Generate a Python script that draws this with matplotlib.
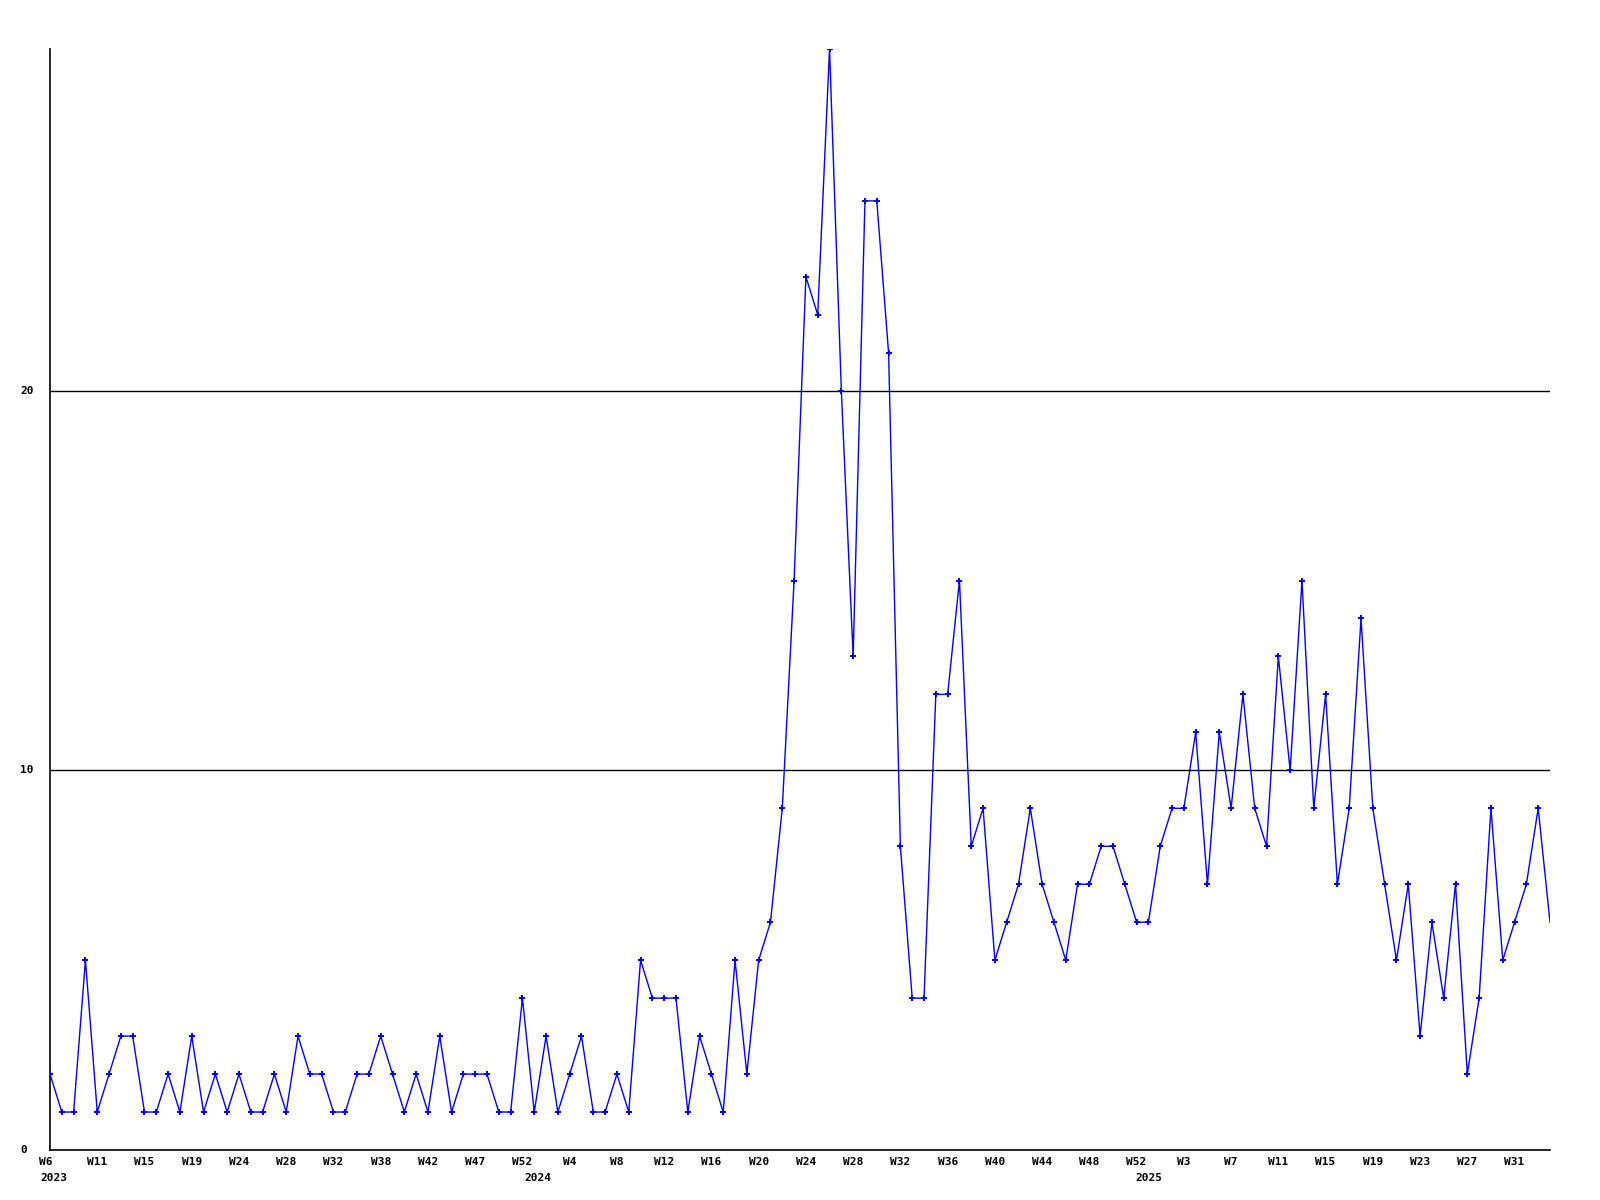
import matplotlib
matplotlib.use("Agg")
import matplotlib.pyplot as plt

# Weekly values, 2023 W6 onwards (128 points)
values_2023 = [2, 1, 1, 5, 1, 2, 3, 3, 1, 1, 2, 1, 3, 1, 2, 1, 2, 1, 1, 2,
               1, 3, 2, 2, 1, 1, 2, 2, 3, 2, 1, 2, 1, 3, 1, 2, 2, 2, 1, 1, 4]
values_2024 = [1, 3, 1, 2, 3, 1, 1, 2, 1, 5, 4, 4, 4, 1, 3, 2, 1, 5, 2, 5,
               6, 9, 15, 23, 22, 29, 20, 13, 25, 25, 21, 8, 4, 4, 12, 12, 15, 8, 9, 5,
               6, 7, 9, 7, 6, 5, 7, 7, 8, 8, 7, 6]
values_2025 = [6, 8, 9, 9, 11, 7, 11, 9, 12, 9, 8, 13, 10, 15, 9, 12, 7, 9, 14, 9,
               7, 5, 7, 3, 6, 4, 7, 2, 4, 9, 5, 6, 7, 9, 6]
values = values_2023 + values_2024 + values_2025

# Tick labels every 4 points
week_labels = ["W6", "W11", "W15", "W19", "W24", "W28", "W32", "W38", "W42", "W47", "W52",
               "W4", "W8", "W12", "W16", "W20", "W24", "W28", "W32", "W36", "W40", "W44",
               "W48", "W52", "W3", "W7", "W11", "W15", "W19", "W23", "W27", "W31"]
year_labels = ["2023", "2024", "2025"]
year_positions = [0.3, 41.3, 93]
y_ticks = [0, 10, 20]

font = dict(family="DejaVu Sans Mono", fontweight="bold", fontsize=8)

fig = plt.figure(figsize=(16, 12), dpi=100)
ax = fig.add_axes([50/1600, 1 - 1150/1200, 1500/1600, (1150-49)/1200])

x = list(range(len(values)))
ax.plot(x, values, color="#0000ff", lw=1.0, marker="P", markersize=4.2,
        markeredgewidth=0, markevery=list(range(len(values) - 1)), zorder=3)

ax.set_xlim(0, len(values) - 1)
ax.set_ylim(0, 29)

for yv in y_ticks[1:]:
    ax.axhline(yv, color="black", lw=1.0, zorder=1)

for s in ["top", "right"]:
    ax.spines[s].set_visible(False)
for s in ["left", "bottom"]:
    ax.spines[s].set_color("black")
    ax.spines[s].set_linewidth(1.2)

ax.set_xticks([])
ax.set_yticks([])

# y labels
for yv in y_ticks:
    ax.text(-30/1500, yv, str(yv), transform=ax.get_yaxis_transform(),
            ha="left", va="center", **font)

# week labels
for i, lab in enumerate(week_labels):
    xi = i * 4
    if i == 0:
        xi = -0.35
    ax.text(xi, -12/1101 * 29, lab, ha="center", va="center", **font)

for pos, lab in zip(year_positions, year_labels):
    ax.text(pos, -28/1101 * 29, lab, ha="center", va="center", clip_on=False, **font)

fig.savefig("out.png", dpi=100, facecolor="white")
